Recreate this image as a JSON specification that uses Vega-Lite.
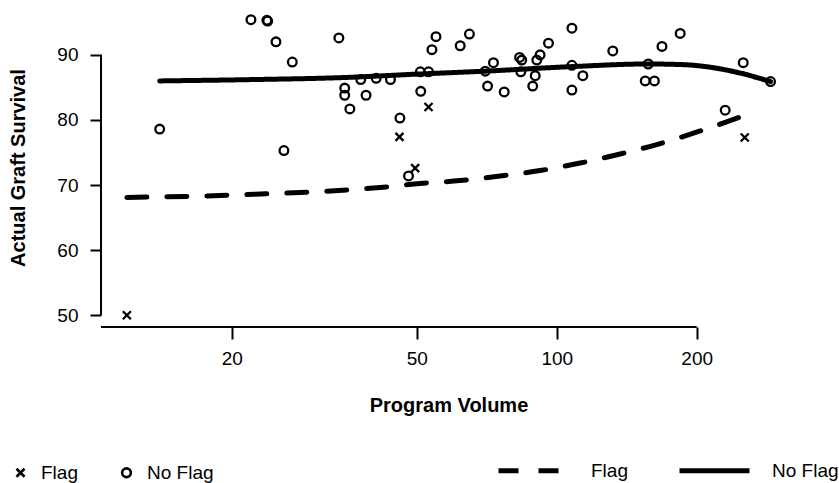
{
  "$schema": "https://vega.github.io/schema/vega-lite/v6.json",
  "width": 695,
  "height": 319,
  "autosize": {"type": "none"},
  "padding": {"left": 101, "top": 8, "right": 43, "bottom": 156},
  "background": "white",
  "config": {
    "view": {"stroke": null},
    "font": "Liberation Sans",
    "axis": {"labelFont": "Liberation Sans", "titleFont": "Liberation Sans", "labelColor": "black", "titleColor": "black", "tickColor": "black", "grid": false, "domain": false, "tickWidth": 2, "labelFontSize": 19, "titleFontSize": 20, "titleFontWeight": "bold"},
    "legend": {"labelFont": "Liberation Sans", "labelColor": "black", "labelFontSize": 19}
  },
  "datasets": {
    "points": [
      {"volume": 11.9, "survival": 50.0, "group": "Flag"},
      {"volume": 45.9, "survival": 77.4, "group": "Flag"},
      {"volume": 53.0, "survival": 82.0, "group": "Flag"},
      {"volume": 49.6, "survival": 72.6, "group": "Flag"},
      {"volume": 253.7, "survival": 77.3, "group": "Flag"},
      {"volume": 14.0, "survival": 78.6, "group": "No Flag"},
      {"volume": 22.0, "survival": 95.4, "group": "No Flag"},
      {"volume": 23.8, "survival": 95.3, "group": "No Flag"},
      {"volume": 23.9, "survival": 95.2, "group": "No Flag"},
      {"volume": 24.9, "survival": 92.0, "group": "No Flag"},
      {"volume": 27.0, "survival": 88.9, "group": "No Flag"},
      {"volume": 25.9, "survival": 75.3, "group": "No Flag"},
      {"volume": 34.0, "survival": 92.6, "group": "No Flag"},
      {"volume": 35.0, "survival": 84.9, "group": "No Flag"},
      {"volume": 35.0, "survival": 83.8, "group": "No Flag"},
      {"volume": 35.9, "survival": 81.7, "group": "No Flag"},
      {"volume": 37.9, "survival": 86.2, "group": "No Flag"},
      {"volume": 38.9, "survival": 83.8, "group": "No Flag"},
      {"volume": 40.9, "survival": 86.4, "group": "No Flag"},
      {"volume": 43.9, "survival": 86.2, "group": "No Flag"},
      {"volume": 46.0, "survival": 80.3, "group": "No Flag"},
      {"volume": 48.0, "survival": 71.4, "group": "No Flag"},
      {"volume": 50.9, "survival": 87.4, "group": "No Flag"},
      {"volume": 53.0, "survival": 87.4, "group": "No Flag"},
      {"volume": 51.0, "survival": 84.4, "group": "No Flag"},
      {"volume": 53.9, "survival": 90.8, "group": "No Flag"},
      {"volume": 55.0, "survival": 92.8, "group": "No Flag"},
      {"volume": 62.0, "survival": 91.4, "group": "No Flag"},
      {"volume": 64.9, "survival": 93.2, "group": "No Flag"},
      {"volume": 70.2, "survival": 87.5, "group": "No Flag"},
      {"volume": 73.1, "survival": 88.8, "group": "No Flag"},
      {"volume": 71.0, "survival": 85.2, "group": "No Flag"},
      {"volume": 77.1, "survival": 84.3, "group": "No Flag"},
      {"volume": 83.2, "survival": 89.6, "group": "No Flag"},
      {"volume": 84.1, "survival": 89.2, "group": "No Flag"},
      {"volume": 83.7, "survival": 87.4, "group": "No Flag"},
      {"volume": 89.9, "survival": 86.8, "group": "No Flag"},
      {"volume": 88.8, "survival": 85.2, "group": "No Flag"},
      {"volume": 92.1, "survival": 90.0, "group": "No Flag"},
      {"volume": 90.6, "survival": 89.2, "group": "No Flag"},
      {"volume": 96.0, "survival": 91.8, "group": "No Flag"},
      {"volume": 107.8, "survival": 94.1, "group": "No Flag"},
      {"volume": 107.8, "survival": 88.4, "group": "No Flag"},
      {"volume": 113.8, "survival": 86.8, "group": "No Flag"},
      {"volume": 107.8, "survival": 84.6, "group": "No Flag"},
      {"volume": 132.0, "survival": 90.6, "group": "No Flag"},
      {"volume": 157.3, "survival": 88.6, "group": "No Flag"},
      {"volume": 155.0, "survival": 86.0, "group": "No Flag"},
      {"volume": 162.2, "survival": 86.0, "group": "No Flag"},
      {"volume": 168.4, "survival": 91.3, "group": "No Flag"},
      {"volume": 184.3, "survival": 93.3, "group": "No Flag"},
      {"volume": 251.8, "survival": 88.8, "group": "No Flag"},
      {"volume": 288.3, "survival": 85.9, "group": "No Flag"},
      {"volume": 230.3, "survival": 81.5, "group": "No Flag"}
    ],
    "curves": [
      {"volume": 11.9, "fit": 68.11, "curve": "Flag"},
      {"volume": 17.09, "fit": 68.31, "curve": "Flag"},
      {"volume": 23.0, "fit": 68.62, "curve": "Flag"},
      {"volume": 30.97, "fit": 69.0, "curve": "Flag"},
      {"volume": 43.8, "fit": 69.77, "curve": "Flag"},
      {"volume": 50.83, "fit": 70.25, "curve": "Flag"},
      {"volume": 61.98, "fit": 70.69, "curve": "Flag"},
      {"volume": 75.55, "fit": 71.38, "curve": "Flag"},
      {"volume": 92.11, "fit": 72.23, "curve": "Flag"},
      {"volume": 112.3, "fit": 73.38, "curve": "Flag"},
      {"volume": 136.9, "fit": 74.77, "curve": "Flag"},
      {"volume": 167.0, "fit": 76.38, "curve": "Flag"},
      {"volume": 203.5, "fit": 78.31, "curve": "Flag"},
      {"volume": 253.7, "fit": 80.7, "curve": "Flag"},
      {"volume": 14.0, "fit": 86.0, "curve": "No Flag"},
      {"volume": 21.9, "fit": 86.2, "curve": "No Flag"},
      {"volume": 34.2, "fit": 86.5, "curve": "No Flag"},
      {"volume": 50.3, "fit": 87.05, "curve": "No Flag"},
      {"volume": 70.15, "fit": 87.5, "curve": "No Flag"},
      {"volume": 107.9, "fit": 88.2, "curve": "No Flag"},
      {"volume": 157.0, "fit": 88.6, "curve": "No Flag"},
      {"volume": 187.1, "fit": 88.5, "curve": "No Flag"},
      {"volume": 213.8, "fit": 88.1, "curve": "No Flag"},
      {"volume": 248.1, "fit": 87.2, "curve": "No Flag"},
      {"volume": 288.3, "fit": 85.9, "curve": "No Flag"}
    ]
  },
  "layer": [
    {
      "data": {"name": "points"},
      "mark": {"type": "point", "filled": false, "color": "black", "strokeWidth": 2.3, "size": 100, "opacity": 1},
      "encoding": {
        "x": {
          "field": "volume", "type": "quantitative",
          "scale": {"type": "log", "domain": [10.47, 327], "nice": false},
          "axis": {"values": [20, 50, 100, 200], "format": "d", "title": "Program Volume", "tickSize": 12, "labelPadding": 10, "titleX": 347.5, "titleY": 78, "titleBaseline": "middle"}
        },
        "y": {
          "field": "survival", "type": "quantitative",
          "scale": {"domain": [48.2, 97.2], "nice": false, "zero": false},
          "axis": {"values": [50, 60, 70, 80, 90], "title": "Actual Graft Survival", "tickSize": 11, "labelPadding": 12, "titleX": -83, "titleY": 159.5, "titleAngle": -90, "titleAlign": "center", "titleBaseline": "middle"}
        },
        "shape": {
          "field": "group", "type": "nominal",
          "scale": {"domain": ["Flag", "No Flag"], "range": ["M-0.8,-0.8L0.8,0.8M-0.8,0.8L0.8,-0.8", "M-0.87,0A0.87,0.87,0,1,1,0.87,0A0.87,0.87,0,1,1,-0.87,0Z"]},
          "legend": {
            "orient": "none", "legendX": -90, "legendY": 455, "direction": "horizontal",
            "title": null, "padding": 0, "symbolSize": 100, "symbolStrokeWidth": 2.6,
            "symbolStrokeColor": "black", "symbolFillColor": "transparent",
            "labelOffset": 11, "columnPadding": 38
          }
        }
      }
    },
    {
      "data": {"name": "curves"},
      "mark": {"type": "line", "color": "black", "strokeWidth": 5, "strokeCap": "round", "interpolate": "monotone"},
      "encoding": {
        "x": {"field": "volume", "type": "quantitative"},
        "y": {"field": "fit", "type": "quantitative"},
        "strokeDash": {
          "field": "curve", "type": "nominal",
          "scale": {"range": [[20, 20], [1, 0]]},
          "legend": {
            "orient": "none", "legendX": 395, "legendY": 425, "direction": "horizontal",
            "title": null, "padding": 0, "symbolType": "stroke", "symbolSize": 4900,
            "symbolStrokeWidth": 5, "symbolStrokeColor": "black",
            "labelOffset": 20, "columnPadding": 41
          }
        }
      }
    },
    {
      "data": {"values": [{}]},
      "mark": {"type": "rule", "color": "black", "strokeWidth": 2},
      "encoding": {
        "x": {"datum": 10.47, "type": "quantitative"},
        "x2": {"datum": 200},
        "y": {"datum": 48.2, "type": "quantitative"}
      }
    },
    {
      "data": {"values": [{}]},
      "mark": {"type": "rule", "color": "black", "strokeWidth": 2},
      "encoding": {
        "x": {"datum": 10.47, "type": "quantitative"},
        "y": {"datum": 50, "type": "quantitative"},
        "y2": {"datum": 90}
      }
    }
  ]
}
